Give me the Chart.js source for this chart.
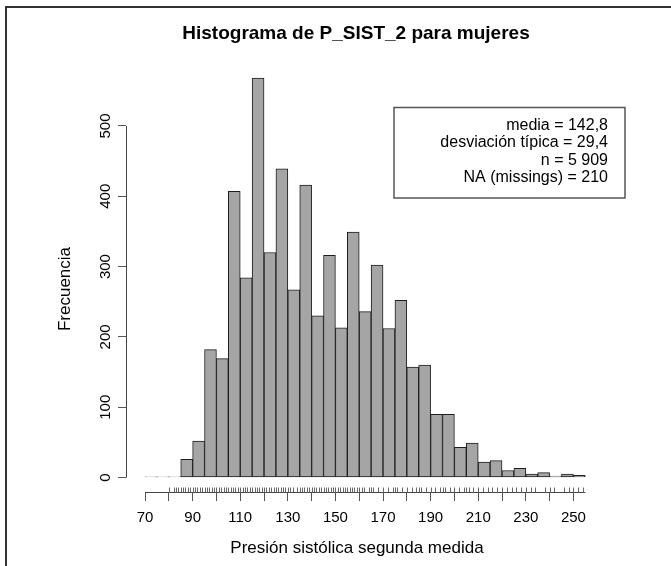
<!DOCTYPE html>
<html>
<head>
<meta charset="utf-8">
<script src="https://cdn.jsdelivr.net/npm/chart.js@4.4.0/dist/chart.umd.min.js"></script>
<style>
  html, body { margin: 0; padding: 0; background: #fff; }
  #wrap { width: 671px; height: 566px; position: relative; }
</style>
</head>
<body>
<div id="wrap"><canvas id="histChart"></canvas></div>
<script>
// histogram bins (left edges, width 5) and their counts
const binStarts = [70, 75, 80, 85, 90, 95, 100, 105, 110, 115, 120, 125, 130, 135, 140, 145, 150, 155, 160,
  165, 170, 175, 180, 185, 190, 195, 200, 205, 210, 215, 220, 225, 230, 235, 240, 245, 250];
const counts = [1, 1, 1, 26, 52, 182, 169, 407, 284, 568, 320, 439, 267, 416, 230, 316, 213, 349, 236,
  302, 212, 252, 157, 160, 90, 90, 43, 49, 22, 24, 10, 13, 5, 7, 2, 5, 3];
const binWidth = 5;

// distinct observed values shown as the rug under the bars
const rugValues = [80, 82, 83, 84, 85, 86, 87, 88, 89, 90, 91, 92, 93, 94, 95, 96, 97, 98, 99, 100,
  101, 102, 103, 104, 105, 106, 107, 108, 109, 110, 111, 112, 113, 114, 115, 116, 117, 118, 119, 120,
  121, 122, 123, 124, 125, 126, 127, 128, 129, 130, 131, 132, 134, 135, 136, 137, 138, 139, 140,
  141, 142, 143, 144, 145, 146, 147, 148, 149, 150, 151, 152, 153, 154, 155, 156, 157, 158, 159, 160,
  161, 162, 164, 165, 166, 168, 170, 172, 174, 175, 176, 178, 180, 182, 184, 185, 186, 188, 190,
  192, 194, 195, 196, 198, 200, 202, 204, 205, 206, 208, 210, 212, 214, 216, 218, 220, 222, 224,
  226, 228, 230, 232, 234, 238, 240, 242, 246, 248, 250, 252, 254];

const xTickValues = [70, 80, 90, 100, 110, 120, 130, 140, 150, 160, 170, 180, 190, 200, 210, 220, 230, 240, 250];
const xLabelValues = [70, 90, 110, 130, 150, 170, 190, 210, 230, 250];
const yTickValues = [0, 100, 200, 300, 400, 500];

const chartTitle = 'Histograma de P_SIST_2 para mujeres';
const xTitle = 'Presión sistólica segunda medida';
const yTitle = 'Frecuencia';
const statsLines = ['media = 142,8', 'desviación típica = 29,4', 'n = 5 909', 'NA (missings) = 210'];

const FONT = '"Liberation Sans", Arial, Helvetica, sans-serif';

const decor = {
  id: 'decor',
  afterDraw(chart) {
    const ctx = chart.ctx;
    const xs = chart.scales.x, ys = chart.scales.y;
    ctx.save();

    // outer frame (top and left edges)
    ctx.strokeStyle = '#333';
    ctx.lineWidth = 2;
    ctx.beginPath();
    ctx.moveTo(6, 566); ctx.lineTo(6, 7); ctx.lineTo(671, 7);
    ctx.stroke();

    // axis lines
    ctx.strokeStyle = '#444';
    ctx.lineWidth = 1;
    const axX = Math.round(chart.chartArea.left) + 0.5;
    const axY = Math.round(chart.chartArea.bottom) + 0.5;
    ctx.beginPath();
    ctx.moveTo(axX, ys.getPixelForValue(yTickValues[0]));
    ctx.lineTo(axX, ys.getPixelForValue(yTickValues[yTickValues.length - 1]));
    ctx.moveTo(xs.getPixelForValue(xTickValues[0]), axY);
    ctx.lineTo(xs.getPixelForValue(binStarts[binStarts.length - 1] + binWidth), axY);
    ctx.stroke();

    // rug
    ctx.strokeStyle = '#666';
    ctx.beginPath();
    rugValues.forEach(v => {
      const px = Math.round(xs.getPixelForValue(v)) + 0.5;
      ctx.moveTo(px, axY - 5);
      ctx.lineTo(px, axY);
    });
    ctx.stroke();

    // y tick labels, rotated like R
    ctx.fillStyle = '#000';
    ctx.font = '15px ' + FONT;
    ctx.textAlign = 'center';
    ctx.textBaseline = 'middle';
    yTickValues.forEach(v => {
      ctx.save();
      ctx.translate(106, ys.getPixelForValue(v));
      ctx.rotate(-Math.PI / 2);
      ctx.fillText(String(v), 0, 0);
      ctx.restore();
    });

    // titles
    ctx.font = 'bold 19px ' + FONT;
    ctx.fillText(chartTitle, 356, 34);
    ctx.font = '17px ' + FONT;
    ctx.fillText(xTitle, 357, 548);
    ctx.save();
    ctx.translate(65, 289);
    ctx.rotate(-Math.PI / 2);
    ctx.fillText(yTitle, 0, 0);
    ctx.restore();

    // stats box
    ctx.strokeStyle = '#555';
    ctx.lineWidth = 1.5;
    ctx.strokeRect(394, 107.5, 231, 90.5);
    ctx.font = '16px ' + FONT;
    ctx.textAlign = 'right';
    statsLines.forEach((t, i) => {
      ctx.fillText(t, 608, 125.5 + i * 17.3);
    });

    ctx.restore();
  }
};

const chart = new Chart(document.getElementById('histChart').getContext('2d'), {
  type: 'bar',
  data: {
    datasets: [{
      data: binStarts.map((s, i) => ({ x: s + binWidth / 2, y: counts[i] })),
      backgroundColor: '#a5a5a5',
      borderColor: '#1e1e1e',
      borderWidth: 1,
      borderSkipped: false,
      barPercentage: 1,
      categoryPercentage: 1
    }]
  },
  options: {
    responsive: true,
    maintainAspectRatio: false,
    animation: false,
    devicePixelRatio: 1,
    layout: { padding: { left: 0, top: 62.7, right: 73.8, bottom: 0 } },
    plugins: {
      legend: { display: false },
      tooltip: { enabled: false },
      title: { display: false }
    },
    scales: {
      x: {
        type: 'linear',
        offset: false,
        min: 62,
        max: 260,
        afterFit: s => { s.height = 74; },
        afterBuildTicks: s => { s.ticks = xTickValues.map(v => ({ value: v })); },
        grid: { offset: false, drawOnChartArea: false, drawTicks: true, tickLength: 9, color: '#555' },
        border: { display: false },
        ticks: {
          autoSkip: false,
          maxRotation: 0,
          padding: 8,
          color: '#000',
          font: { family: FONT, size: 15 },
          callback: v => xLabelValues.includes(v) ? String(v) : ''
        }
      },
      y: {
        min: -20.6,
        max: 590,
        afterFit: s => { s.width = 126; },
        afterBuildTicks: s => { s.ticks = yTickValues.map(v => ({ value: v })); },
        grid: { drawOnChartArea: false, drawTicks: true, tickLength: 8, color: '#555' },
        border: { display: false },
        ticks: { display: false }
      }
    }
  },
  plugins: [decor]
});
</script>
</body>
</html>
